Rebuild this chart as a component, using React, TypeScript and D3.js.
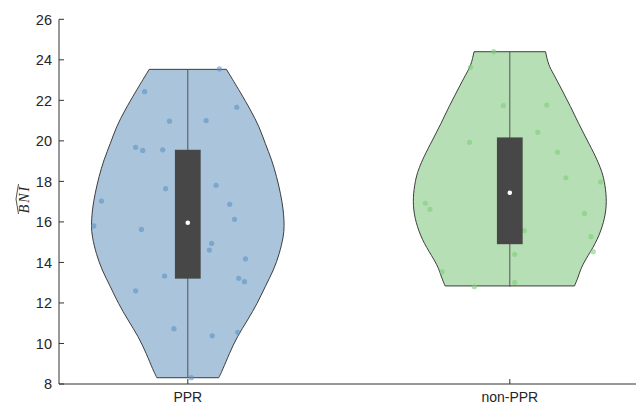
import React from "react";
import * as d3 from "d3";

// ---- data ----
const categories = ["PPR", "non-PPR"];
const yTicks = [8, 10, 12, 14, 16, 18, 20, 22, 24, 26];

// violin density profiles (value, relative half-width)
const pprProfileValues = [23.53, 22.35, 21.52, 20.7, 19.88, 19.06, 18.23, 17.41, 16.59, 15.76, 15.27, 14.45, 13.63, 12.8, 11.98, 11.16, 10.33, 9.51, 8.69, 8.31];
const pprProfileDensity = [0.4, 0.55, 0.65, 0.74, 0.8, 0.87, 0.92, 0.96, 0.99, 1.0, 0.99, 0.95, 0.89, 0.8, 0.72, 0.62, 0.51, 0.43, 0.36, 0.32];
const nonProfileValues = [24.4, 23.74, 23.33, 22.51, 21.69, 20.87, 20.04, 19.22, 18.65, 18.23, 17.41, 16.59, 15.76, 14.94, 14.12, 13.63, 13.3, 12.84];
const nonProfileDensity = [0.37, 0.4, 0.45, 0.54, 0.63, 0.71, 0.8, 0.89, 0.94, 0.97, 1.0, 1.0, 0.96, 0.89, 0.78, 0.73, 0.71, 0.67];

// individual observations (value, jitter offset in category units)
const pprValues = [23.55, 22.43, 21.66, 20.97, 21.0, 19.68, 19.53, 19.56, 17.64, 17.81, 17.03, 16.87, 16.13, 15.8, 15.63, 14.94, 14.61, 14.18, 13.33, 13.22, 13.05, 12.6, 10.73, 10.38, 10.55, 8.31];
const pprJitter = [0.098, -0.134, 0.152, -0.057, 0.057, -0.162, -0.14, -0.078, -0.069, 0.088, -0.268, 0.13, 0.145, -0.292, -0.144, 0.074, 0.067, 0.179, -0.072, 0.158, 0.176, -0.162, -0.043, 0.076, 0.155, 0.011];
const nonValues = [24.4, 23.63, 21.74, 21.77, 20.42, 19.93, 19.44, 18.18, 17.97, 16.92, 16.62, 16.42, 15.57, 15.27, 14.53, 14.4, 13.54, 12.8, 13.02];
const nonJitter = [-0.05, -0.122, -0.02, 0.115, 0.087, -0.125, 0.148, 0.174, 0.282, -0.262, -0.248, 0.232, 0.045, 0.252, 0.259, 0.015, -0.21, -0.11, 0.015];

// box statistics
const q1 = [13.2, 14.9];
const medians = [15.96, 17.44];
const q3 = [19.56, 20.17];
const whiskerLow = [8.31, 12.8];
const whiskerHigh = [23.53, 24.4];

const fills = ["#a9c4db", "#b7dfb5"];
const dotColors = ["#5e95c6", "#7fcf7b"];

const W = 636;
const H = 405;

export default function App() {
  const x = d3.scaleLinear().domain([0.6, 2.4]).range([59, 638.6]);
  const y = d3.scaleLinear().domain([8, 26]).range([384, 19.3]);
  const violinWidth = 0.3;
  const boxHalf = 0.04;

  const profiles = [
    { v: pprProfileValues, d: pprProfileDensity },
    { v: nonProfileValues, d: nonProfileDensity },
  ];
  const points = [
    { v: pprValues, j: pprJitter },
    { v: nonValues, j: nonJitter },
  ];

  const axisColor = "#333";
  const font = "'Liberation Sans', Arial, Helvetica, sans-serif";

  return (
    <svg width={W} height={H} style={{ position: "absolute", left: 0, top: 0 }} fontFamily={font}>
      <rect width={W} height={H} fill="#fff" />
      {categories.map((c, i) => {
        const pos = i + 1;
        const prof = profiles[i];
        const rows = prof.v.map((v, k) => ({ v, d: prof.d[k] }));
        const area = d3
          .area<{ v: number; d: number }>()
          .y((r) => y(r.v))
          .x0((r) => x(pos - violinWidth * r.d))
          .x1((r) => x(pos + violinWidth * r.d))
          .curve(d3.curveBasis);
        const pts = points[i];
        return (
          <g key={c}>
            <path d={area(rows) || ""} fill={fills[i]} stroke="#3d3d3d" strokeWidth={1} />
            {pts.v.map((v, k) => (
              <circle key={k} cx={x(pos + pts.j[k])} cy={y(v)} r={2.6} fill={dotColors[i]} fillOpacity={0.6} />
            ))}
            <line x1={x(pos)} x2={x(pos)} y1={y(whiskerLow[i])} y2={y(whiskerHigh[i])} stroke="#555" strokeWidth={1} />
            <rect
              x={x(pos - boxHalf)}
              width={x(pos + boxHalf) - x(pos - boxHalf)}
              y={y(q3[i])}
              height={y(q1[i]) - y(q3[i])}
              fill="#474747"
            />
            <circle cx={x(pos)} cy={y(medians[i])} r={2.3} fill="#fff" />
          </g>
        );
      })}

      {/* y axis */}
      <line x1={59} x2={59} y1={y(26)} y2={y(8)} stroke={axisColor} strokeWidth={1} />
      {yTicks.map((t) => (
        <g key={t}>
          <line x1={59} x2={64} y1={y(t)} y2={y(t)} stroke={axisColor} strokeWidth={1} />
          <text x={52} y={y(t)} dy="0.36em" textAnchor="end" fontSize={14.5} fill="#262626">
            {t}
          </text>
        </g>
      ))}
      {/* x axis */}
      <line x1={59} x2={W} y1={y(8)} y2={y(8)} stroke={axisColor} strokeWidth={1} />
      {categories.map((c, i) => (
        <g key={c}>
          <line x1={x(i + 1)} x2={x(i + 1)} y1={y(8)} y2={y(8) - 5} stroke={axisColor} strokeWidth={1} />
          <text x={x(i + 1)} y={401.5} textAnchor="middle" fontSize={14} fill="#262626">
            {c}
          </text>
        </g>
      ))}

      {/* y label: widehat BNI */}
      <g transform="translate(28.5,199) rotate(-90)">
        <text
          x={0}
          y={0}
          textAnchor="middle"
          fontFamily="'Liberation Serif', 'Times New Roman', serif"
          fontStyle="italic"
          fontSize={14}
          letterSpacing={2}
          fill="#262626"
        >
          BNI
        </text>
        <path d="M-15,-10 L0,-12.5 L15,-10" fill="none" stroke="#262626" strokeWidth={0.8} />
      </g>
    </svg>
  );
}
